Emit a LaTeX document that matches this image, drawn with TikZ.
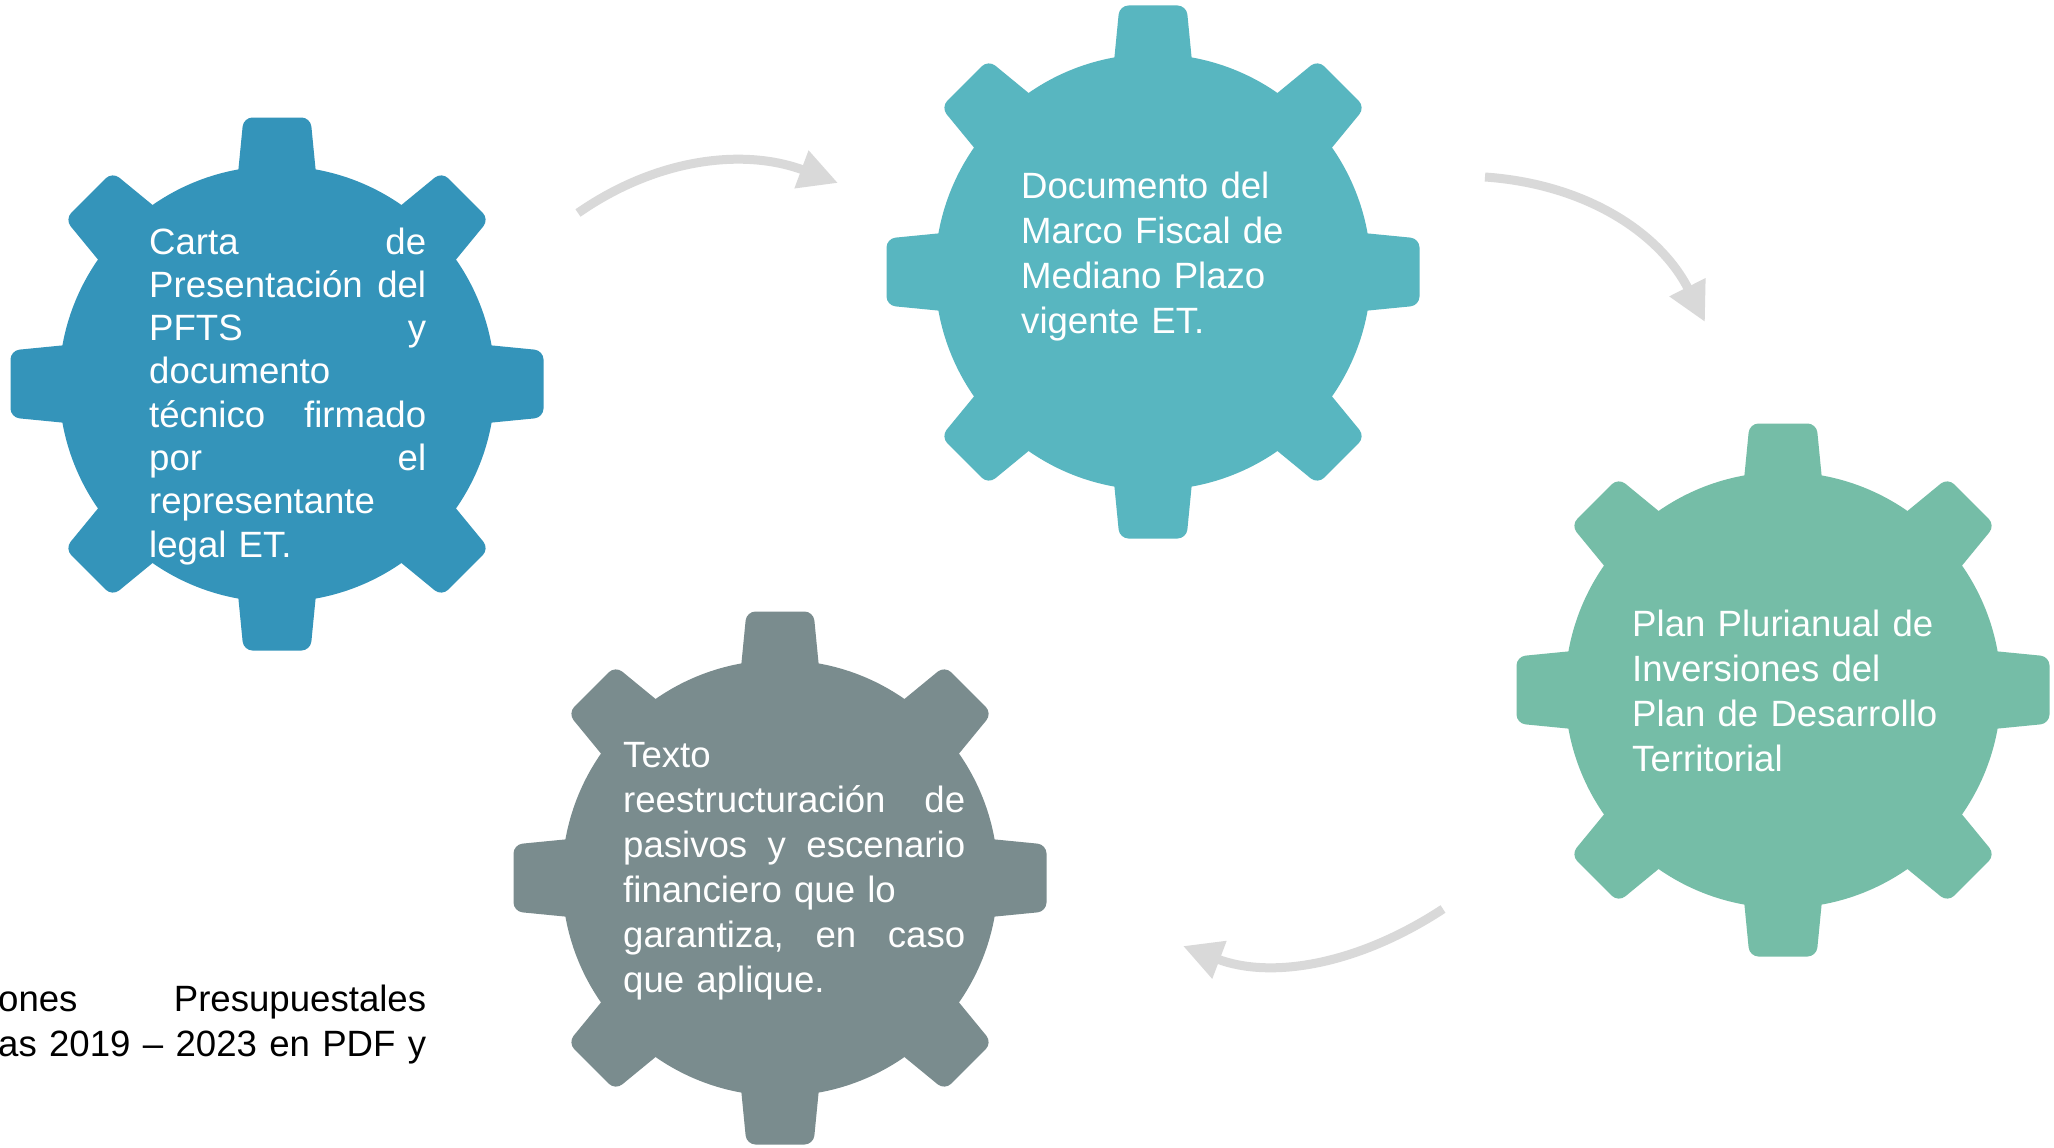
\documentclass[tikz,border=0pt]{standalone}
\usepackage{fontspec}
\setmainfont{Liberation Sans}
\usetikzlibrary{arrows.meta}

\tikzset{
    geartext/.style={anchor=base west, inner sep=0pt, text=white, font=\fontsize{36.6}{45}\selectfont},
    cycleflow/.style={draw=FlowGrey, line width=9pt, -{Triangle[length=39pt, width=38pt]}}
}

\begin{document}
\begin{tikzpicture}[x=1pt, y=-1pt]
    \definecolor{GearBlue}{HTML}{3494BA}
    \definecolor{GearTeal}{HTML}{58B6C0}
    \definecolor{GearGreen}{HTML}{75BDA7}
    \definecolor{GearGrey}{HTML}{7A8C8E}
    \definecolor{FlowGrey}{HTML}{D9D9D9}
    \useasboundingbox[fill=white] (0,0) rectangle (2054,1148);
    \coordinate (carta) at (277,384);
    \coordinate (marco) at (1153,272);
    \coordinate (plan) at (1783,690);
    \coordinate (pasivos) at (780,878);
    \foreach \centre/\shade in {carta/GearBlue, marco/GearTeal, plan/GearGreen, pasivos/GearGrey}{
        \fill[\shade] (\centre) circle (218);
        \foreach \angle in {0, 45, ..., 315}{
            \fill[\shade, rounded corners=9pt, shift={(\centre)}, rotate=\angle]
                (-41,-190) -- (-33.5,-266.5) -- (33.5,-266.5) -- (41,-190) -- cycle;
        }
    }
    \node[geartext, font=\fontsize{36.6}{43.3}\selectfont, text width=277pt, align=left] (cartatext) at (149,254)
        {Carta\hfill de\\ Presentación\hfill del\\ PFTS\hfill y\\ documento\\ técnico\hfill firmado\\ por\hfill el\\ representante\\ legal ET.};
    \node[geartext, text width=300pt, align=left] (marcotext) at (1021,198)
        {Documento del\\ Marco Fiscal de\\ Mediano Plazo\\ vigente ET.};
    \node[geartext, text width=330pt, align=left] (plantext) at (1632,636)
        {Plan Plurianual de\\ Inversiones del\\ Plan de Desarrollo\\ Territorial};
    \node[geartext, text width=342pt, align=left] (pasivostext) at (623,767)
        {Texto\\ reestructuración\hfill de\\ pasivos\hfill y\hfill escenario\\ financiero que lo\\ garantiza,\hfill en\hfill caso\\ que aplique.};
    \node[geartext, text=black, text width=428pt, align=right] (ejecuciones) at (-2,1011)
        {ones\hfill Presupuestales\\ as\hfill 2019\hfill –\hfill 2023\hfill en\hfill PDF\hfill y};
    \coordinate (flow1a) at (578,213);
    \coordinate (flow1b) at (838,183);
    \coordinate (flow2a) at (1485,177);
    \coordinate (flow2b) at (1705,322);
    \coordinate (flow3a) at (1443,909);
    \coordinate (flow3b) at (1183,946);
    \draw[cycleflow] (flow1a) .. controls (657,158) and (744,148) .. (flow1b);
    \draw[cycleflow] (flow2a) .. controls (1586,184) and (1660,233) .. (flow2b);
    \draw[cycleflow] (flow3a) .. controls (1356,966) and (1270,979) .. (flow3b);
\end{tikzpicture}
\end{document}
